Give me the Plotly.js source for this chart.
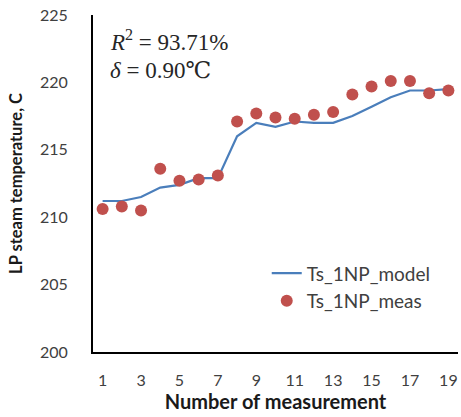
<!DOCTYPE html>
<html>
<head>
<meta charset="utf-8">
<script src="https://cdn.plot.ly/plotly-3.0.1.min.js"></script>
<style>
  html, body { margin: 0; padding: 0; background: #fff; }
  #chart { width: 461px; height: 417px; }
</style>
</head>
<body>
<div id="chart"></div>
<script>
// Measurement index
const measurementNo = [1, 2, 3, 4, 5, 6, 7, 8, 9, 10, 11, 12, 13, 14, 15, 16, 17, 18, 19];
// Modelled LP steam temperature, °C
const tsModel = [211.2, 211.2, 211.5, 212.2, 212.4, 212.9, 212.9, 216.0, 217.0, 216.7,
                 217.1, 217.0, 217.0, 217.5, 218.2, 218.9, 219.4, 219.4, 219.5];
// Measured LP steam temperature, °C
const tsMeas = [210.6, 210.8, 210.5, 213.6, 212.7, 212.8, 213.1, 217.1, 217.7, 217.4,
                217.3, 217.6, 217.8, 219.1, 219.7, 220.1, 220.1, 219.2, 219.4];
const xTicks = [1, 3, 5, 7, 9, 11, 13, 15, 17, 19];
const yTicks = [200, 205, 210, 215, 220, 225];

const baseFont = 'Lato, Carlito, "Liberation Sans", sans-serif';
const mathFont = '"Liberation Serif", "DejaVu Serif", serif';

const traces = [
  {
    x: measurementNo, y: tsModel, name: 'Ts_1NP_model',
    type: 'scatter', mode: 'lines',
    line: { color: '#4A7EBB', width: 2.2 }
  },
  {
    x: measurementNo, y: tsMeas, name: 'Ts_1NP_meas',
    type: 'scatter', mode: 'markers',
    marker: { color: '#C0504D', size: 12 }
  }
];

const layout = {
  width: 461, height: 417,
  margin: { l: 93, r: 3, t: 15, b: 65 },
  paper_bgcolor: '#fff', plot_bgcolor: '#fff',
  font: { family: baseFont, size: 16, color: '#404040' },
  showlegend: true,
  legend: {
    x: 0.476, y: 0.29, xanchor: 'left', yanchor: 'top',
    bgcolor: 'rgba(0,0,0,0)', font: { family: baseFont, size: 19, color: '#404040' },
    tracegroupgap: 0, itemwidth: 30
  },
  xaxis: {
    range: [0.5, 19.5], tickvals: xTicks, ticktext: xTicks.map(String),
    showgrid: false, zeroline: false,
    showline: true, linecolor: '#000', linewidth: 2,
    ticks: '', ticklabelstandoff: 13,
    tickfont: { family: baseFont, size: 16, color: '#404040' },
    title: { text: 'Number of measurement', standoff: 3,
             font: { family: baseFont, size: 20, color: '#1a1a1a', weight: 'bold' } }
  },
  yaxis: {
    range: [200, 225], tickvals: yTicks,
    showgrid: false, zeroline: false,
    showline: true, linecolor: '#000', linewidth: 2,
    ticks: '', ticklabelstandoff: 20,
    tickfont: { family: baseFont, size: 16, color: '#404040' },
    title: { text: 'LP steam temperature, C', standoff: 13,
             font: { family: baseFont, size: 16.5, color: '#1a1a1a', weight: 'bold' } }
  },
  annotations: [
    {
      xref: 'paper', yref: 'paper', x: 0.04, y: 0.923, xanchor: 'left', yanchor: 'middle',
      text: '<i>R</i><sup>2</sup> = 93.71%', showarrow: false,
      font: { family: mathFont, size: 23, color: '#262626' }
    },
    {
      xref: 'paper', yref: 'paper', x: 0.04, y: 0.834, xanchor: 'left', yanchor: 'middle',
      text: '<i>δ</i> = 0.90℃', showarrow: false,
      font: { family: mathFont, size: 23, color: '#262626' }
    }
  ]
};

Plotly.newPlot('chart', traces, layout, { displayModeBar: false, staticPlot: true });
</script>
</body>
</html>
